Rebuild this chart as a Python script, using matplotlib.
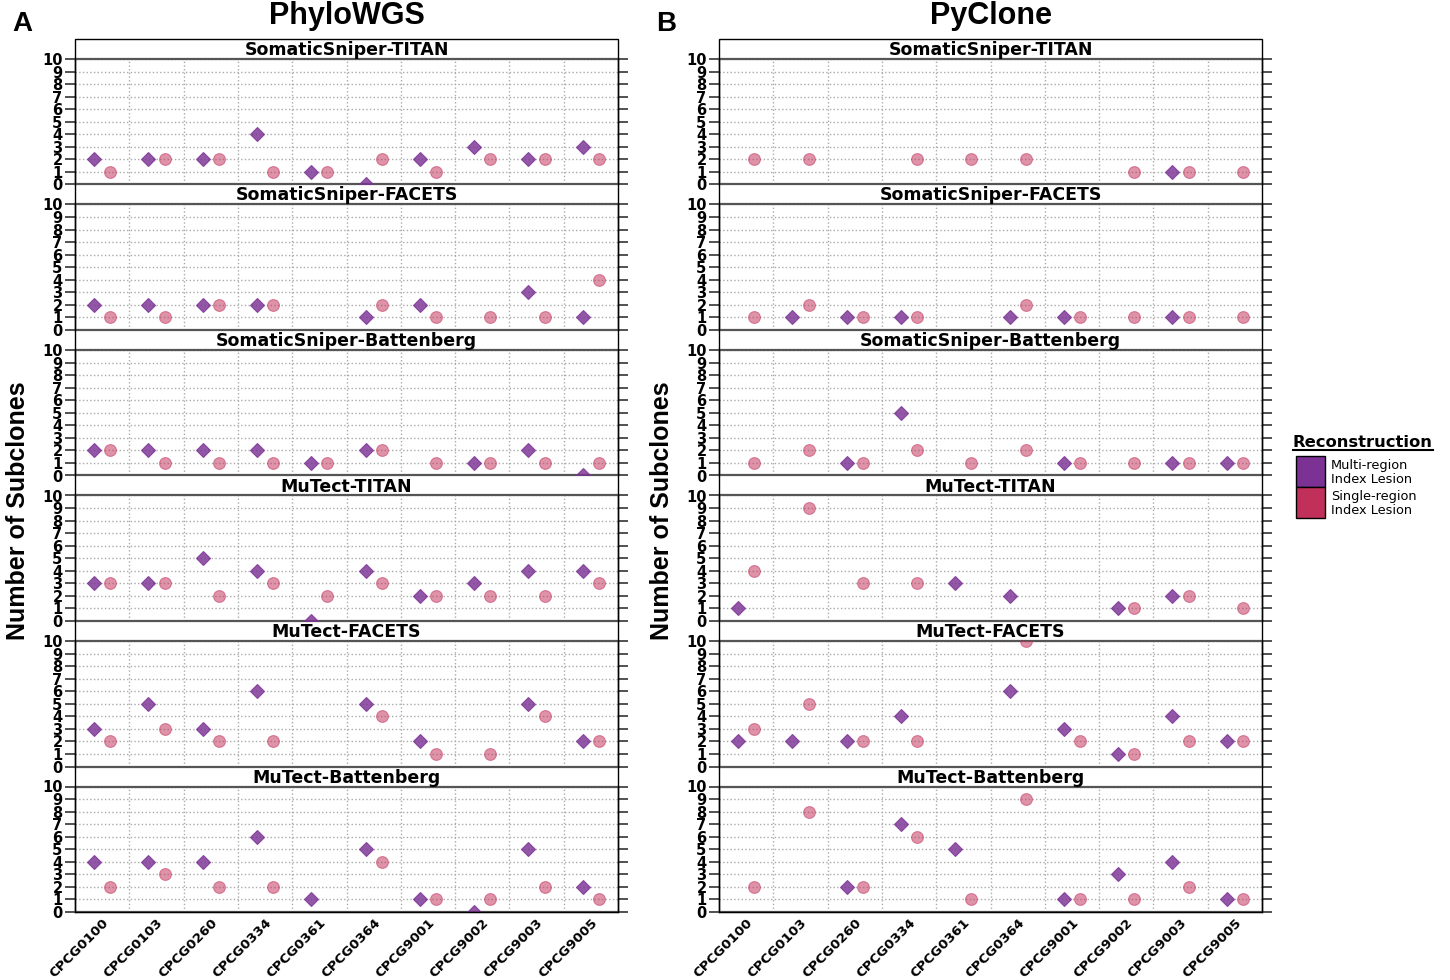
import numpy as np
import matplotlib.pyplot as plt
from matplotlib.patches import Rectangle
from matplotlib.lines import Line2D

n = np.nan

samples = ['CPCG0100', 'CPCG0103', 'CPCG0260', 'CPCG0334', 'CPCG0361',
           'CPCG0364', 'CPCG9001', 'CPCG9002', 'CPCG9003', 'CPCG9005']
pipelines = ['SomaticSniper-TITAN', 'SomaticSniper-FACETS', 'SomaticSniper-Battenberg',
             'MuTect-TITAN', 'MuTect-FACETS', 'MuTect-Battenberg']

# PhyloWGS (multi-region / single-region index lesion)
pw_multi_ss_titan = [2, 2, 2, 4, 1, 0, 2, 3, 2, 3]
pw_single_ss_titan = [1, 2, 2, 1, 1, 2, 1, 2, 2, 2]
pw_multi_ss_facets = [2, 2, 2, 2, n, 1, 2, n, 3, 1]
pw_single_ss_facets = [1, 1, 2, 2, n, 2, 1, 1, 1, 4]
pw_multi_ss_batt = [2, 2, 2, 2, 1, 2, n, 1, 2, 0]
pw_single_ss_batt = [2, 1, 1, 1, 1, 2, 1, 1, 1, 1]
pw_multi_mt_titan = [3, 3, 5, 4, 0, 4, 2, 3, 4, 4]
pw_single_mt_titan = [3, 3, 2, 3, 2, 3, 2, 2, 2, 3]
pw_multi_mt_facets = [3, 5, 3, 6, n, 5, 2, n, 5, 2]
pw_single_mt_facets = [2, 3, 2, 2, n, 4, 1, 1, 4, 2]
pw_multi_mt_batt = [4, 4, 4, 6, 1, 5, 1, 0, 5, 2]
pw_single_mt_batt = [2, 3, 2, 2, n, 4, 1, 1, 2, 1]

# PyClone
pc_multi_ss_titan = [n, n, n, n, n, n, n, n, 1, n]
pc_single_ss_titan = [2, 2, n, 2, 2, 2, n, 1, 1, 1]
pc_multi_ss_facets = [n, 1, 1, 1, n, 1, 1, n, 1, n]
pc_single_ss_facets = [1, 2, 1, 1, n, 2, 1, 1, 1, 1]
pc_multi_ss_batt = [n, n, 1, 5, n, n, 1, n, 1, 1]
pc_single_ss_batt = [1, 2, 1, 2, 1, 2, 1, 1, 1, 1]
pc_multi_mt_titan = [1, n, n, n, 3, 2, n, 1, 2, n]
pc_single_mt_titan = [4, 9, 3, 3, n, n, n, 1, 2, 1]
pc_multi_mt_facets = [2, 2, 2, 4, n, 6, 3, 1, 4, 2]
pc_single_mt_facets = [3, 5, 2, 2, n, 10, 2, 1, 2, 2]
pc_multi_mt_batt = [n, n, 2, 7, 5, n, 1, 3, 4, 1]
pc_single_mt_batt = [2, 8, 2, 6, 1, 9, 1, 1, 2, 1]

phylowgs = [(pw_multi_ss_titan, pw_single_ss_titan), (pw_multi_ss_facets, pw_single_ss_facets),
            (pw_multi_ss_batt, pw_single_ss_batt), (pw_multi_mt_titan, pw_single_mt_titan),
            (pw_multi_mt_facets, pw_single_mt_facets), (pw_multi_mt_batt, pw_single_mt_batt)]
pyclone = [(pc_multi_ss_titan, pc_single_ss_titan), (pc_multi_ss_facets, pc_single_ss_facets),
           (pc_multi_ss_batt, pc_single_ss_batt), (pc_multi_mt_titan, pc_single_mt_titan),
           (pc_multi_mt_facets, pc_single_mt_facets), (pc_multi_mt_batt, pc_single_mt_batt)]

multi_col = '#7B3294'
single_col = '#C0305A'

W, H = 1450, 980
fig = plt.figure(figsize=(W / 100, H / 100), dpi=100)

top, bottom = 39, 912
step = (bottom - top) / 6
strip = 20
xpos = np.arange(1, len(samples) + 1)


def fx(px):
    return px / W


def fy(py):
    return 1 - py / H


def draw_column(x0, x1, data, title, letter):
    for k, (multi, single) in enumerate(data):
        s_top = top + k * step
        p_top = s_top + strip
        p_bot = top + (k + 1) * step
        ax = fig.add_axes([fx(x0), fy(p_bot), (x1 - x0) / W, (p_bot - p_top) / H])
        ax.set_xlim(0.5, len(samples) + 0.5)
        ax.set_ylim(0, 10)
        ax.set_yticks(range(0, 11))
        ax.set_xticks(xpos)
        ax.set_xticks(xpos[:-1] + 0.5, minor=True)
        ax.grid(axis='y', which='major', linestyle=':', color='#aaaaaa', lw=1)
        ax.grid(axis='x', which='minor', linestyle=':', color='#aaaaaa', lw=1)
        ax.set_axisbelow(True)
        ax.plot(xpos - 0.15, multi, linestyle='none', marker='D', ms=7,
                color=multi_col, alpha=0.82, mec=multi_col, mew=0.8, zorder=3)
        ax.plot(xpos + 0.15, single, linestyle='none', marker='o', ms=8.5,
                color=single_col, alpha=0.52, mec=single_col, mew=0.8, zorder=3)
        ax.tick_params(axis='y', which='major', direction='out', length=7, width=1.2,
                       color='#333333', left=True, right=True, labelsize=10.5, pad=2)
        for lab in ax.get_yticklabels():
            lab.set_fontweight('bold')
        ax.tick_params(axis='x', which='both', length=0)
        for sp in ['left', 'right']:
            ax.spines[sp].set_color('black')
            ax.spines[sp].set_linewidth(1)
        for sp in ['top', 'bottom']:
            ax.spines[sp].set_color('#555555')
            ax.spines[sp].set_linewidth(1.6)
        if k == len(data) - 1:
            ax.set_xticklabels(samples, rotation=45, ha='right', rotation_mode='anchor',
                               fontsize=9.6, fontweight='bold')
            ax.tick_params(axis='x', pad=3)
        else:
            ax.set_xticklabels([])
        fig.text(fx((x0 + x1) / 2), fy(s_top + strip / 2 + 1), pipelines[k],
                 ha='center', va='center', fontsize=12.5, fontweight='bold')
    fig.add_artist(Rectangle((fx(x0), fy(bottom)), (x1 - x0) / W, (bottom - top) / H,
                             transform=fig.transFigure, fill=False, ec='black', lw=1, zorder=5))
    fig.text(fx((x0 + x1) / 2), fy(16), title, ha='center', va='center',
             fontsize=22, fontweight='bold', family='Liberation Sans')
    fig.text(fx(x0 - 53), fy(24), letter, ha='center', va='center',
             fontsize=20, fontweight='bold', family='Liberation Sans')
    fig.text(fx(x0 - 57), fy(511), 'Number of Subclones', ha='center', va='center',
             rotation=90, fontsize=18, fontweight='bold', family='Liberation Sans')


draw_column(75, 618, phylowgs, 'PhyloWGS', 'A')
draw_column(719, 1262, pyclone, 'PyClone', 'B')

# legend drawn by hand: underlined title, touching colour boxes
leg_title = fig.text(fx(1293), fy(442), 'Reconstruction', ha='left', va='center',
                     fontsize=11.8, fontweight='bold')
fig.canvas.draw()
bb = leg_title.get_window_extent().transformed(fig.transFigure.inverted())
fig.add_artist(Line2D([bb.x0, bb.x1], [bb.y0 - 0.001, bb.y0 - 0.001],
                      transform=fig.transFigure, color='black', lw=1.5))
leg_labels = ['Multi-region\nIndex Lesion', 'Single-region\nIndex Lesion']
leg_colors = [multi_col, single_col]
for i, (lab, col) in enumerate(zip(leg_labels, leg_colors)):
    y_top = 456 + i * 31
    fig.add_artist(Rectangle((fx(1296), fy(y_top + 31)), 29 / W, 31 / H,
                             transform=fig.transFigure, fc=col, ec='black', lw=1))
    fig.text(fx(1331), fy(y_top + 16), lab, ha='left', va='center',
             fontsize=9.3, linespacing=1.1)

fig.savefig('out.png', dpi=100)
